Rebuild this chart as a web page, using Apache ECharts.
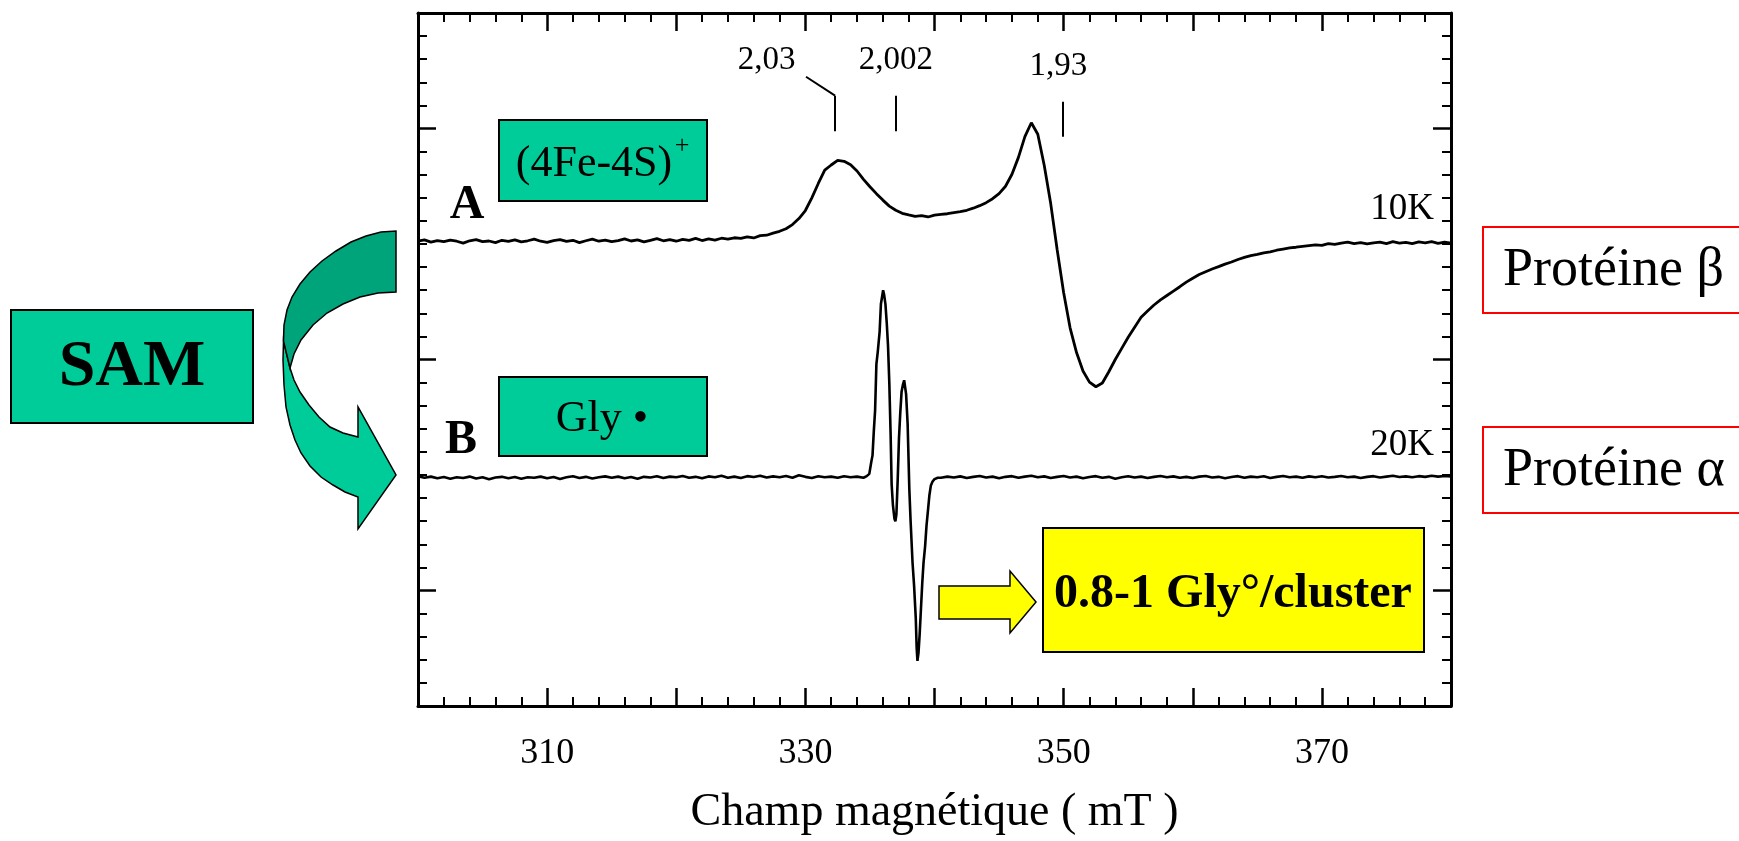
<!DOCTYPE html>
<html>
<head>
<meta charset="utf-8">
<title>RPE - Champ magnétique</title>
<script src="https://cdn.jsdelivr.net/npm/echarts@6/dist/echarts.min.js"></script>
<style>
  html, body { margin: 0; padding: 0; background: #fff; }
  #chart { width: 1739px; height: 841px; }
</style>
</head>
<body>
<div id="chart"></div>
<script>
// spectre A (10K), champ en mT
const fieldA = [
  300,300.5,301,301.5,302,302.5,303,303.5,304,304.5,
  305,305.5,306,306.5,307,307.5,308,308.5,309,309.5,
  310,310.5,311,311.5,312,312.5,313,313.5,314,314.5,
  315,315.5,316,316.5,317,317.5,318,318.5,319,319.5,
  320,320.5,321,321.5,322,322.5,323,323.5,324,324.5,
  325,325.5,326,326.5,327,327.5,328,328.5,329,329.5,
  330,330.5,331,331.5,332,332.5,333,333.5,334,334.5,
  335,335.5,336,336.5,337,337.5,338,338.5,339,339.5,
  340,340.5,341,341.5,342,342.5,343,343.5,344,344.5,
  345,345.5,346,346.5,347,347.5,348,348.5,349,349.5,
  350,350.5,351,351.5,352,352.5,353,353.5,354,354.5,
  355,355.5,356,356.5,357,357.5,358,358.5,359,359.5,
  360,360.5,361,361.5,362,362.5,363,363.5,364,364.5,
  365,365.5,366,366.5,367,367.5,368,368.5,369,369.5,
  370,370.5,371,371.5,372,372.5,373,373.5,374,374.5,
  375,375.5,376,376.5,377,377.5,378,378.5,379,379.5,
  380
];
const signalA = [
  15.12,15.18,15.08,15.15,15.10,15.17,15.12,15.04,15.14,15.19,
  15.10,15.13,15.06,15.16,15.11,15.18,15.09,15.14,15.21,15.12,
  15.07,15.15,15.19,15.11,15.16,15.06,15.14,15.21,15.12,15.17,
  15.10,15.15,15.22,15.13,15.18,15.09,15.16,15.23,15.14,15.19,
  15.12,15.20,15.16,15.24,15.15,15.22,15.17,15.25,15.21,15.27,
  15.24,15.31,15.26,15.36,15.38,15.47,15.55,15.66,15.84,16.10,
  16.45,17.00,17.62,18.20,18.42,18.62,18.58,18.43,18.16,17.80,
  17.48,17.18,16.90,16.64,16.46,16.33,16.26,16.20,16.23,16.17,
  16.25,16.28,16.31,16.36,16.40,16.46,16.55,16.66,16.79,16.96,
  17.18,17.50,18.02,18.75,19.65,20.25,19.75,18.40,16.75,14.75,
  12.90,11.37,10.30,9.50,9.02,8.82,8.98,9.47,10.00,10.48,
  10.96,11.40,11.83,12.10,12.36,12.58,12.77,12.96,13.15,13.35,
  13.52,13.68,13.80,13.92,14.02,14.13,14.22,14.33,14.42,14.50,
  14.55,14.62,14.66,14.73,14.78,14.83,14.86,14.90,14.93,14.96,
  14.94,15.02,14.98,15.04,15.08,15.02,15.06,15.01,15.05,15.08,
  15.02,15.10,15.04,15.07,15.02,15.09,15.05,15.10,15.03,15.08,
  15.04
];

// spectre B (20K)
const fieldB = [
  300,300.5,301,301.5,302,302.5,303,303.5,304,304.5,
  305,305.5,306,306.5,307,307.5,308,308.5,309,309.5,
  310,310.5,311,311.5,312,312.5,313,313.5,314,314.5,
  315,315.5,316,316.5,317,317.5,318,318.5,319,319.5,
  320,320.5,321,321.5,322,322.5,323,323.5,324,324.5,
  325,325.5,326,326.5,327,327.5,328,328.5,329,329.5,
  330,330.5,331,331.5,332,332.5,333,333.5,334,334.5,
  334.75,334.95,335.1,335.2,335.3,335.4,335.5,335.6,335.75,335.85,
  335.95,336.02,336.1,336.2,336.3,336.4,336.5,336.6,336.68,336.78,
  336.9,336.97,337.05,337.15,337.25,337.35,337.45,337.55,337.65,337.72,
  337.8,337.92,338.05,338.15,338.3,338.42,338.55,338.62,338.68,338.76,
  338.85,338.95,339.05,339.15,339.27,339.38,339.5,339.6,339.72,339.85,
  340,340.25,
  340.5,341,341.5,342,342.5,343,343.5,344,344.5,345,
  345.5,346,346.5,347,347.5,348,348.5,349,349.5,350,
  350.5,351,351.5,352,352.5,353,353.5,354,354.5,355,
  355.5,356,356.5,357,357.5,358,358.5,359,359.5,360,
  360.5,361,361.5,362,362.5,363,363.5,364,364.5,365,
  365.5,366,366.5,367,367.5,368,368.5,369,369.5,370,
  370.5,371,371.5,372,372.5,373,373.5,374,374.5,375,
  375.5,376,376.5,377,377.5,378,378.5,379,379.5,380
];
const signalB = [
  4.95,4.88,4.93,4.86,4.91,4.84,4.90,4.87,4.93,4.85,
  4.90,4.82,4.89,4.92,4.86,4.91,4.84,4.90,4.88,4.93,
  4.86,4.91,4.83,4.90,4.95,4.87,4.92,4.85,4.90,4.94,
  4.88,4.93,4.86,4.91,4.84,4.92,4.89,4.95,4.87,4.93,
  4.90,4.96,4.88,4.92,4.86,4.94,4.90,4.97,4.88,4.93,
  4.87,4.95,4.91,4.97,4.89,4.94,4.90,4.96,4.88,4.99,
  4.92,4.87,4.95,4.90,4.93,4.88,4.95,4.90,4.93,4.88,
  4.95,5.05,5.55,5.85,6.90,7.80,9.80,10.30,11.20,12.40,
  12.75,13.00,12.80,12.40,11.60,10.60,9.00,6.80,4.60,3.70,
  3.10,3.00,3.30,4.80,6.60,7.70,8.60,8.90,9.10,9.05,
  8.50,7.20,4.40,3.00,1.20,0.20,-1.20,-2.50,-3.05,-2.70,
  -1.90,-0.80,0.30,1.20,1.90,2.80,3.50,4.10,4.55,4.72,
  4.82,4.88,
  4.88,4.93,4.89,4.94,4.87,4.92,4.96,4.89,4.93,4.86,
  4.92,4.95,4.88,4.93,4.97,4.90,4.94,4.87,4.92,4.96,
  4.89,4.93,4.86,4.91,4.95,4.88,4.92,4.84,4.90,4.95,
  4.89,4.93,4.87,4.92,4.96,4.90,4.94,4.88,4.92,4.87,
  4.93,4.96,4.89,4.92,4.86,4.91,4.95,4.88,4.93,4.90,
  4.95,4.87,4.92,4.96,4.90,4.93,4.88,4.94,4.90,4.95,
  4.89,4.92,4.96,4.90,4.93,4.87,4.92,4.95,4.89,4.93,
  4.97,4.91,4.94,4.90,4.95,4.92,4.97,4.93,4.96,4.94
];

// valeurs de g repérées
const gLabels = ['2,03', '2,002', '1,93'];
const gFields = [332.3, 337.0, 349.9];

// graduations étiquetées de l'axe x
const xLabels = [310, 330, 350, 370];

const SERIF = '"Liberation Serif", "Times New Roman", serif';

const chart = echarts.init(document.getElementById('chart'));

function tickAxis(extra) {
  return Object.assign({
    type: 'value',
    axisLine: { show: true, onZero: false, lineStyle: { color: '#000', width: 3 } },
    axisTick: { show: true, inside: true, length: 18, lineStyle: { color: '#000', width: 2.5 } },
    minorTick: { show: true, length: 9, lineStyle: { color: '#000', width: 2 } },
    splitLine: { show: false },
    minorSplitLine: { show: false }
  }, extra);
}

function textEl(text, x, y, font, align) {
  return {
    type: 'text',
    z: 20,
    style: {
      text: text, x: x, y: y, font: font,
      align: align, textAlign: align,
      verticalAlign: 'middle', textVerticalAlign: 'middle',
      fill: '#000'
    }
  };
}

function boxEl(x, y, w, h, fill, stroke) {
  return {
    type: 'rect', z: 15,
    shape: { x: x, y: y, width: w, height: h },
    style: { fill: fill, stroke: stroke, lineWidth: 2 }
  };
}

// marques g : trait vertical + petit trait oblique pour 2,03
const gLines = gFields.map((f, i) => {
  const top = i === 2 ? 21.16 : 21.42;
  const bottom = i === 2 ? 19.64 : 19.88;
  return [{ coord: [f, top] }, { coord: [f, bottom] }];
});
gLines.push([{ coord: [330.05, 22.24] }, { coord: [gFields[0], 21.42] }]);

const gTextPos = [[327.0, 22.95], [337.0, 22.95], [349.6, 22.7]];

const option = {
  animation: false,
  backgroundColor: '#fff',
  grid: { left: 418, top: 13, width: 1033, height: 702, containLabel: false },
  xAxis: [
    tickAxis({
      position: 'bottom', min: 300, max: 380, interval: 10,
      minorTick: { show: true, splitNumber: 5, length: 9, lineStyle: { color: '#000', width: 2 } },
      axisLabel: {
        show: true, margin: 30, color: '#000', fontSize: 36, fontFamily: SERIF,
        formatter: v => (xLabels.indexOf(v) >= 0 ? String(v) : '')
      },
      name: 'Champ magnétique ( mT )',
      nameLocation: 'middle', nameGap: 84,
      nameTextStyle: { color: '#000', fontSize: 46, fontFamily: SERIF }
    }),
    tickAxis({
      position: 'top', min: 300, max: 380, interval: 10,
      minorTick: { show: true, splitNumber: 5, length: 9, lineStyle: { color: '#000', width: 2 } },
      axisLabel: { show: false }
    })
  ],
  yAxis: [
    tickAxis({
      position: 'left', min: -5, max: 25, splitNumber: 3,
      minorTick: { show: true, splitNumber: 10, length: 9, lineStyle: { color: '#000', width: 2 } },
      axisLabel: { show: false }
    }),
    tickAxis({
      position: 'right', min: -5, max: 25, splitNumber: 3,
      minorTick: { show: true, splitNumber: 10, length: 9, lineStyle: { color: '#000', width: 2 } },
      axisLabel: { show: false }
    })
  ],
  series: [
    {
      name: 'A 10K',
      type: 'line',
      xAxisIndex: 0, yAxisIndex: 0,
      showSymbol: false,
      symbol: 'none',
      lineStyle: { color: '#000', width: 2.8 },
      data: fieldA.map((f, i) => [f, signalA[i]]),
      markLine: {
        silent: true,
        symbol: ['none', 'none'],
        label: { show: false },
        lineStyle: { color: '#000', width: 2, type: 'solid' },
        data: gLines
      },
      markPoint: {
        silent: true,
        symbol: 'circle',
        symbolSize: 1,
        itemStyle: { color: 'rgba(0,0,0,0)' },
        label: {
          show: true, position: 'inside', color: '#000',
          fontSize: 33, fontFamily: SERIF, formatter: '{b}'
        },
        data: gLabels.map((g, i) => ({ name: g, coord: gTextPos[i] }))
      }
    },
    {
      name: 'B 20K',
      type: 'line',
      xAxisIndex: 0, yAxisIndex: 0,
      showSymbol: false,
      symbol: 'none',
      lineStyle: { color: '#000', width: 2.6 },
      data: fieldB.map((f, i) => [f, signalB[i]])
    }
  ],
  graphic: [
    // SAM
    boxEl(11, 310, 242, 113, '#00CC99', '#000'),
    textEl('SAM', 132, 368, 'bold 66px ' + SERIF, 'center'),
    // flèche courbe : partie claire (avant)
    {
      type: 'polygon', z: 14,
      shape: { points: [
        [283.5, 341], [283, 360], [284, 385], [286, 407], [290, 425], [295, 440],
        [301, 453], [310, 466], [321, 477], [333, 485], [345, 492], [358, 497],
        [358, 529], [396, 475], [358, 407], [358, 437],
        [343, 433], [330, 427], [319, 417], [309, 405], [300, 392], [294, 380], [290, 368]
      ] },
      style: { fill: '#00CC99', stroke: '#000', lineWidth: 1.5 }
    },
    // flèche courbe : partie foncée (arrière)
    {
      type: 'polygon', z: 15,
      shape: { points: [
        [396, 231], [396, 292], [378, 293], [360, 297], [343, 304], [327, 313],
        [313, 325], [301, 340], [294, 354], [290, 368], [283.5, 341],
        [284, 325], [287, 310], [292, 297], [300, 284], [310, 272], [322, 261],
        [336, 251], [351, 242], [366, 236], [381, 232]
      ] },
      style: { fill: '#00A47A', stroke: '#000', lineWidth: 1.5 }
    },
    // étiquettes des spectres
    boxEl(499, 120, 208, 81, '#00CC99', '#000'),
    textEl('(4Fe-4S)', 594, 164, '44px ' + SERIF, 'center'),
    textEl('+', 682, 146, '26px ' + SERIF, 'center'),
    boxEl(499, 377, 208, 79, '#00CC99', '#000'),
    textEl('Gly •', 602, 419, '44px ' + SERIF, 'center'),
    textEl('A', 467, 206, 'bold 48px ' + SERIF, 'center'),
    textEl('B', 461, 441, 'bold 48px ' + SERIF, 'center'),
    textEl('10K', 1434, 209, '37px ' + SERIF, 'right'),
    textEl('20K', 1434, 445, '37px ' + SERIF, 'right'),
    // flèche jaune + encadré
    {
      type: 'polygon', z: 15,
      shape: { points: [[939, 586], [1010, 586], [1010, 571], [1036, 602], [1010, 633], [1010, 619], [939, 619]] },
      style: { fill: '#FFFF00', stroke: '#000', lineWidth: 1.5 }
    },
    boxEl(1043, 528, 381, 124, '#FFFF00', '#000'),
    textEl('0.8-1 Gly°/cluster', 1233, 595, 'bold 48px ' + SERIF, 'center'),
    // protéines
    boxEl(1483, 227, 270, 86, 'none', '#FF0000'),
    textEl('Protéine β', 1503, 271, '54px ' + SERIF, 'left'),
    boxEl(1483, 427, 270, 86, 'none', '#FF0000'),
    textEl('Protéine α', 1503, 471, '54px ' + SERIF, 'left')
  ]
};

chart.setOption(option);
window.addEventListener('resize', () => chart.resize());
</script>
</body>
</html>
